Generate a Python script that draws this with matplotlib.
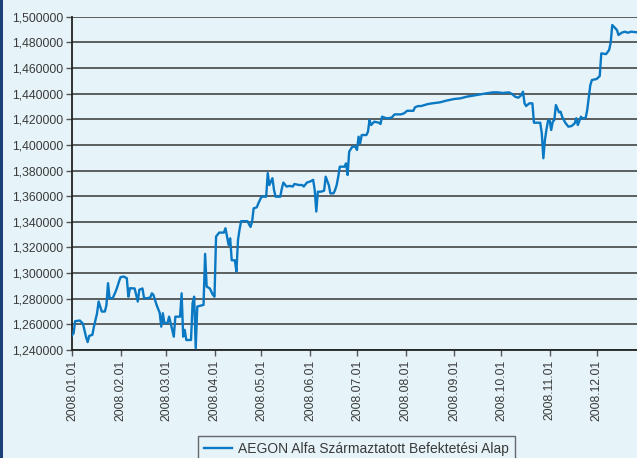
import matplotlib
matplotlib.use("Agg")
import matplotlib.pyplot as plt
import matplotlib.dates as mdates
import matplotlib.ticker as mticker
from matplotlib.patches import Rectangle
import pandas as pd

# day offsets from 2008-01-01 and fund price
day_offset = [
    0, 1, 2, 5, 7, 9, 10, 11, 13, 14, 16, 17, 18, 19, 21, 22, 23, 24, 26, 28, 29,
    30, 31, 33, 35, 36, 37, 40, 42, 43, 45, 46, 48, 50, 51, 52, 54, 56, 57, 58, 59,
    61, 62, 63, 65, 66, 69, 70, 71, 72, 73, 76, 77, 78, 79, 80, 84, 85, 86, 88, 90,
    91, 92, 94, 97, 98, 100, 101, 102, 104, 105, 106, 107, 108, 112, 114, 115, 116, 118, 119, 121,
    124, 125, 126, 128, 129, 130, 133, 134, 135, 137, 139, 141, 142, 145, 147, 148, 150, 152, 154, 155,
    156, 157, 159, 161, 162, 164, 165, 167, 168, 169, 170, 171, 174, 175, 176, 177, 179, 181, 182, 183,
    184, 185, 188, 189, 190, 191, 193, 196, 197, 198, 201, 204, 206, 210, 212, 214, 218, 219, 221, 223,
    227, 230, 235, 239, 244, 248, 252, 256, 261, 265, 269, 272, 275, 279, 281, 283, 285, 287, 288, 289,
    290, 292, 294, 295, 299, 300, 301, 302, 303, 304, 305, 306, 307, 308, 309, 311, 312, 313, 315, 317,
    319, 321, 322, 323, 325, 326, 328, 329, 331, 332, 335, 337, 338, 341, 343, 344, 345, 347, 348, 349,
    351, 353, 355, 357, 361,
]
price = [
    1.2515, 1.2530, 1.2625, 1.2630, 1.2605, 1.2500, 1.2462, 1.2510, 1.2518, 1.2582, 1.2687,
    1.2778, 1.2740, 1.2700, 1.2700, 1.2750, 1.2921, 1.2804, 1.2804, 1.2860, 1.2895,
    1.2934, 1.2968, 1.2973, 1.2960, 1.2816, 1.2882, 1.2880, 1.2778, 1.2870, 1.2880,
    1.2804, 1.2804, 1.2810, 1.2842, 1.2830, 1.2752, 1.2690, 1.2582, 1.2687, 1.2610,
    1.2610, 1.2660, 1.2610, 1.2504, 1.2660, 1.2660, 1.2842, 1.2504, 1.2557, 1.2478,
    1.2478, 1.2765, 1.2816, 1.2414, 1.2739, 1.2752, 1.3150, 1.2895, 1.2880, 1.2830,
    1.2816, 1.3285, 1.3316, 1.3316, 1.3350, 1.3220, 1.3271, 1.3100, 1.3100, 1.3012,
    1.3259, 1.3340, 1.3405, 1.3405, 1.3360, 1.3400, 1.3505, 1.3513, 1.3544, 1.3596,
    1.3596, 1.3780, 1.3686, 1.3740, 1.3648, 1.3596, 1.3596, 1.3660, 1.3706, 1.3675,
    1.3680, 1.3675, 1.3695, 1.3687, 1.3687, 1.3675, 1.3706, 1.3714, 1.3727, 1.3648,
    1.3480, 1.3635, 1.3635, 1.3643, 1.3752, 1.3686, 1.3622, 1.3622, 1.3648, 1.3686,
    1.3750, 1.3830, 1.3830, 1.3856, 1.3765, 1.3947, 1.3986, 1.3986, 1.3960, 1.4064,
    1.4012, 1.4077, 1.4077, 1.4103, 1.4194, 1.4155, 1.4181, 1.4173, 1.4163, 1.4220,
    1.4207, 1.4212, 1.4238, 1.4238, 1.4246, 1.4266, 1.4266, 1.4293, 1.4303, 1.4303,
    1.4318, 1.4324, 1.4332, 1.4345, 1.4358, 1.4363, 1.4376, 1.4384, 1.4395, 1.4403,
    1.4410, 1.4410, 1.4405, 1.4410, 1.4397, 1.4376, 1.4368, 1.4389, 1.4415, 1.4324,
    1.4303, 1.4324, 1.4324, 1.4173, 1.4173, 1.4090, 1.3896, 1.4038, 1.4122, 1.4189,
    1.4194, 1.4116, 1.4181, 1.4194, 1.4311, 1.4254, 1.4259, 1.4220, 1.4173, 1.4142,
    1.4147, 1.4168, 1.4208, 1.4155, 1.4220, 1.4207, 1.4210, 1.4272, 1.4467, 1.4506,
    1.4514, 1.4537, 1.4714, 1.4708, 1.4740, 1.4797, 1.4935, 1.4909, 1.4896, 1.4857,
    1.4875, 1.4883, 1.4875, 1.4883, 1.4878,
]
series_label = "AEGON Alfa Származtatott Befektetési Alap"

BG = "#e6f4fa"
LINE = "#0a78c2"
TEXT = "#3a3a3a"

plt.rcParams["font.family"] = ["Liberation Sans", "DejaVu Sans"]
plt.rcParams["font.size"] = 8.8

start = pd.Timestamp("2008-01-01")
dates = start + pd.to_timedelta(day_offset, unit="D")

fig = plt.figure(figsize=(6.37, 4.58), dpi=100, facecolor=BG)
ax = fig.add_axes([72 / 637, 1 - 350 / 458, 1 - 72 / 637, (350 - 16.7) / 458])
ax.set_facecolor(BG)

# dark stripe down the left edge
fig.patches.append(Rectangle((0, 0), 3 / 637, 1, transform=fig.transFigure,
                             facecolor="#1d3f78", edgecolor="none"))

ax.plot(dates, price, color=LINE, lw=1.7, label=series_label, zorder=3)

ax.set_ylim(1.24, 1.50)
ax.set_xlim(start, start + pd.Timedelta(days=360.8))
ax.yaxis.set_major_locator(mticker.MultipleLocator(0.02))
ax.yaxis.set_major_formatter(
    mticker.FuncFormatter(lambda v, _: f"{v:.6f}".replace(".", ",")))
ax.xaxis.set_major_locator(mdates.MonthLocator())
ax.xaxis.set_major_formatter(mdates.DateFormatter("%Y.%m.%d"))
plt.setp(ax.get_xticklabels(), rotation=90, ha="center", va="top")

ax.grid(axis="y", color="#454545", lw=1.2, zorder=1)
ax.grid(axis="x", visible=False)
for side in ("top", "right"):
    ax.spines[side].set_visible(False)
for side in ("left", "bottom"):
    ax.spines[side].set_color("#222222")
    ax.spines[side].set_linewidth(1.3)
ax.tick_params(axis="both", colors="#555555", labelcolor=TEXT, length=4, width=1)
ax.tick_params(axis="y", pad=2)
ax.tick_params(axis="x", pad=3)

leg = fig.legend(loc="upper left", bbox_to_anchor=(198 / 637, 1 - 436 / 458),
                 frameon=True, fancybox=False, handlelength=2.0,
                 handletextpad=0.4, borderpad=0.45, borderaxespad=0,
                 prop={"size": 10})
leg.get_frame().set_facecolor(BG)
leg.get_frame().set_edgecolor("#444444")
leg.get_frame().set_linewidth(1.0)
for t in leg.get_texts():
    t.set_color(TEXT)

fig.savefig("out.png", dpi=100, facecolor=BG)
